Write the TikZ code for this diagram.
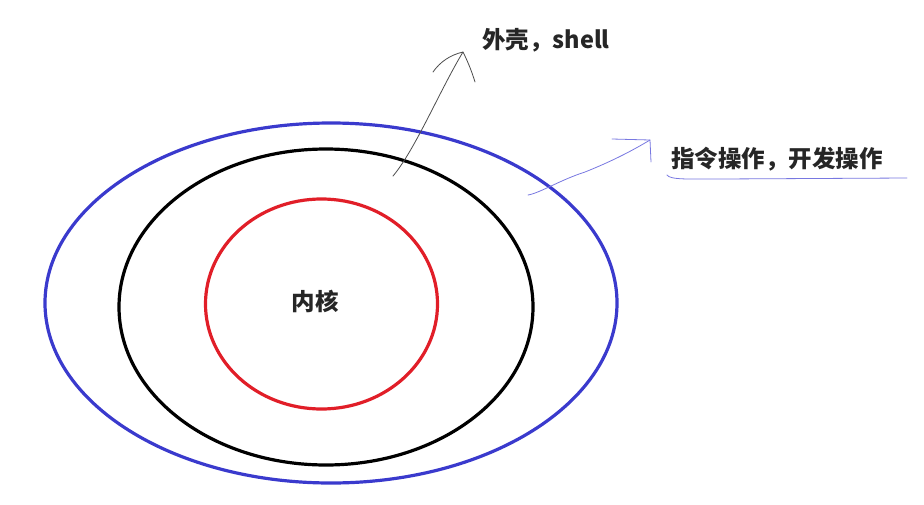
\documentclass[tikz,border=0pt]{standalone}
\usepackage{fontspec}
\newfontfamily\cjk{Noto Sans CJK SC}
\definecolor{ringblue}{RGB}{58,58,205}
\definecolor{penblue}{RGB}{120,120,225}
\definecolor{ringred}{RGB}{225,30,40}
\begin{document}
\begin{tikzpicture}[x=1pt,y=-1pt,
  ring/.style={line width=3.2pt},
  lbl/.style={font=\cjk\bfseries\fontsize{23.5}{27}\selectfont, text=black!85, inner sep=0pt},
  pen/.style={line width=0.8pt, line cap=round, line join=round}]
\useasboundingbox (0,0) rectangle (924,504);
\draw[ring, draw=ringblue] (331,303) ellipse [x radius=286, y radius=180];
\draw[ring, draw=black] (326,307) ellipse [x radius=207, y radius=158];
\draw[ring, draw=ringred] (321.5,304) ellipse [x radius=116, y radius=105];
\node[lbl] (core) at (315,301) {内核};
\node[lbl] (shell) at (546,40) {外壳，shell};
\node[lbl] (ops) at (777,159) {指令操作，开发操作};
% gray hand-drawn arrow
\coordinate (g0) at (393,176);
\coordinate (g1) at (463,52);
\coordinate (gl) at (433,72);
\coordinate (gr) at (475,82);
\draw[pen, draw=black!70] (g0) .. controls (415,150) and (440,90) .. (g1);
\draw[pen, draw=black!70] (gl) .. controls (440,62) and (450,55) .. (g1) .. controls (468,62) and (472,72) .. (gr);
% blue hand-drawn arrow
\coordinate (b0) at (528,195);
\coordinate (b1) at (650,140);
\coordinate (bl) at (612,139);
\coordinate (br) at (651,162);
\draw[pen, draw=penblue] (b0) .. controls (540,193) and (560,180) .. (585,172) .. controls (610,162) and (630,152) .. (b1);
\draw[pen, draw=penblue] (bl) -- (b1) -- (br);
% underline
\coordinate (u0) at (667,175);
\coordinate (u1) at (907,178);
\draw[pen, draw=penblue] (u0) .. controls (670,180) and (690,179) .. (720,179) -- (u1);
\end{tikzpicture}
\end{document}
